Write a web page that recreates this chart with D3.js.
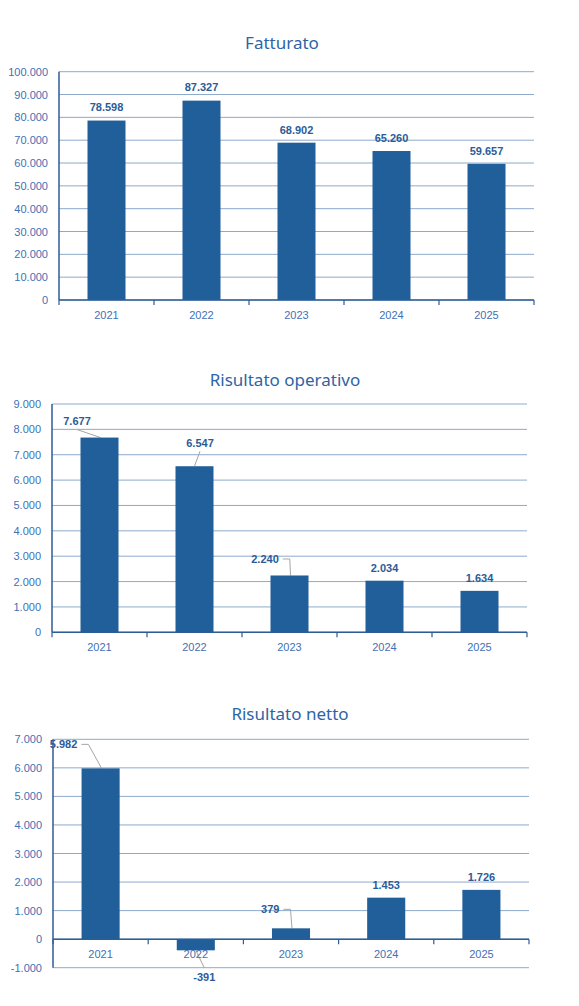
<!DOCTYPE html>
<html>
<head>
<meta charset="utf-8">
<script src="https://cdn.jsdelivr.net/npm/d3@7"></script>
<style>
  body { margin: 0; background: #fff; }
  svg { display: block; }
</style>
</head>
<body>
<script>
// dati (migliaia di euro)
var years = ['2021', '2022', '2023', '2024', '2025'];
var fatturato = [78598, 87327, 68902, 65260, 59657];
var risultatoOperativo = [7677, 6547, 2240, 2034, 1634];
var risultatoNetto = [5982, -391, 379, 1453, 1726];

var fatturatoTicks = [0, 10000, 20000, 30000, 40000, 50000, 60000, 70000, 80000, 90000, 100000];
var operativoTicks = [0, 1000, 2000, 3000, 4000, 5000, 6000, 7000, 8000, 9000];
var nettoTicks = [-1000, 0, 1000, 2000, 3000, 4000, 5000, 6000, 7000];

var w = 579;
var h = 1006;

var barColor = '#215f9a';
var gridColor = '#8eaacb';
var axisColor = '#2c5d96';
var tickText = '#4270b4';
var labelColor = '#2b5c98';

var it = d3.formatLocale({decimal: ',', thousands: '.', grouping: [3], currency: ['€', ''], minus: '-'});
var fmt = it.format(',d');

// etichette spostate con linea guida (Excel)
var charts = [
    {title: 'Fatturato', values: fatturato, ticks: fatturatoTicks,
     left: 59, right: 534, top: 71.7, bottom: 300, titleX: 282, titleY: 43,
     labels: {}},
    {title: 'Risultato operativo', values: risultatoOperativo, ticks: operativoTicks,
     left: 52, right: 527, top: 404, bottom: 632.3, titleX: 285, titleY: 380,
     labels: {0: {dx: -22.5, dy: -16, leader: 'straight'},
              1: {dx: 5.5, dy: -23, leader: 'straight'},
              2: {dx: -24.5, dy: -16.5, leader: 'elbow'}}},
    {title: 'Risultato netto', values: risultatoNetto, ticks: nettoTicks,
     left: 53, right: 529, top: 739.3, bottom: 967.7, titleX: 290, titleY: 714,
     labels: {0: {dx: -37, dy: -24, leader: 'elbow'},
              1: {dx: 8.5, dy: 26.5, leader: 'straight'},
              2: {dx: -20.7, dy: -19, leader: 'elbow'}}}
];

var svg = d3.select('body')
            .append('svg')
            .attr('width', w)
            .attr('height', h);

charts.forEach(function(c) {
    var g = svg.append('g');

    var xScale = d3.scaleBand()
                   .domain(years)
                   .range([c.left, c.right])
                   .paddingInner(0.6)
                   .paddingOuter(0.3);
    var yScale = d3.scaleLinear()
                   .domain(d3.extent(c.ticks))
                   .range([c.bottom, c.top]);
    var y0 = yScale(0);
    var step = (c.right - c.left) / years.length;

    g.append('text')
     .attr('x', c.titleX)
     .attr('y', c.titleY)
     .attr('dy', '0.35em')
     .attr('text-anchor', 'middle')
     .attr('font-family', '"Noto Sans", sans-serif')
     .attr('font-size', 17)
     .attr('fill', '#2e64a5')
     .text(c.title);

    // griglia
    g.selectAll('line.grid')
     .data(c.ticks)
     .enter()
     .append('line')
     .attr('x1', c.left)
     .attr('x2', c.right)
     .attr('y1', function(d) { return yScale(d); })
     .attr('y2', function(d) { return yScale(d); })
     .attr('stroke', gridColor)
     .attr('stroke-width', 1);

    var yAxis = g.append('g')
                 .attr('transform', 'translate(' + c.left + ',0)')
                 .call(d3.axisLeft(yScale)
                         .tickValues(c.ticks)
                         .tickFormat(fmt)
                         .tickSize(0)
                         .tickPadding(11));
    yAxis.select('.domain').remove();
    yAxis.selectAll('text')
         .attr('font-family', '"Liberation Sans", Arial, sans-serif')
         .attr('font-size', 11)
         .attr('fill', tickText);

    g.selectAll('rect')
     .data(c.values)
     .enter()
     .append('rect')
     .attr('x', function(d, i) { return xScale(years[i]); })
     .attr('y', function(d) { return yScale(Math.max(d, 0)); })
     .attr('width', xScale.bandwidth())
     .attr('height', function(d) { return Math.abs(yScale(d) - y0); })
     .attr('fill', barColor);

    // asse x sullo zero
    g.append('line')
     .attr('x1', c.left)
     .attr('x2', c.right)
     .attr('y1', y0)
     .attr('y2', y0)
     .attr('stroke', axisColor)
     .attr('stroke-width', 1.5);
    g.selectAll('line.xtick')
     .data(d3.range(years.length + 1))
     .enter()
     .append('line')
     .attr('x1', function(i) { return c.left + i * step; })
     .attr('x2', function(i) { return c.left + i * step; })
     .attr('y1', y0)
     .attr('y2', y0 + 5)
     .attr('stroke', axisColor)
     .attr('stroke-width', 1.2);
    g.append('line')
     .attr('x1', c.left)
     .attr('x2', c.left)
     .attr('y1', c.top)
     .attr('y2', c.bottom)
     .attr('stroke', axisColor)
     .attr('stroke-width', 1.5);

    g.selectAll('text.year')
     .data(years)
     .enter()
     .append('text')
     .attr('x', function(d) { return xScale(d) + xScale.bandwidth() / 2; })
     .attr('y', y0 + 15)
     .attr('dy', '0.35em')
     .attr('text-anchor', 'middle')
     .attr('font-family', '"Liberation Sans", Arial, sans-serif')
     .attr('font-size', 11)
     .attr('fill', tickText)
     .text(function(d) { return d; });

    // etichette dei valori
    c.values.forEach(function(d, i) {
        var cx = xScale(years[i]) + xScale.bandwidth() / 2;
        var end = yScale(d);
        var opt = c.labels[i] || {dx: 0, dy: d < 0 ? 13 : -13};
        var lx = cx + opt.dx;
        var ly = end + opt.dy;
        var t = g.append('text')
                 .attr('x', lx)
                 .attr('y', ly)
                 .attr('dy', '0.35em')
                 .attr('text-anchor', 'middle')
                 .attr('font-family', '"Liberation Sans", Arial, sans-serif')
                 .attr('font-size', 11)
                 .attr('font-weight', 'bold')
                 .attr('fill', labelColor)
                 .text(fmt(d));
        if (!opt.leader) return;
        var bb = t.node().getBBox();
        var pts;
        if (opt.leader === 'elbow') {
            var sx = bb.x + bb.width + 4;
            pts = [[sx, ly], [sx + 7, ly], [cx + 1, end]];
        } else {
            var sy = d < 0 ? ly - 9 : ly + 8;
            pts = [[lx, sy], [cx + (lx < cx ? 1 : 0), end]];
        }
        g.insert('path', 'text')
         .attr('d', d3.line()(pts))
         .attr('fill', 'none')
         .attr('stroke', '#a6a6a6')
         .attr('stroke-width', 1);
    });
});
</script>
</body>
</html>
